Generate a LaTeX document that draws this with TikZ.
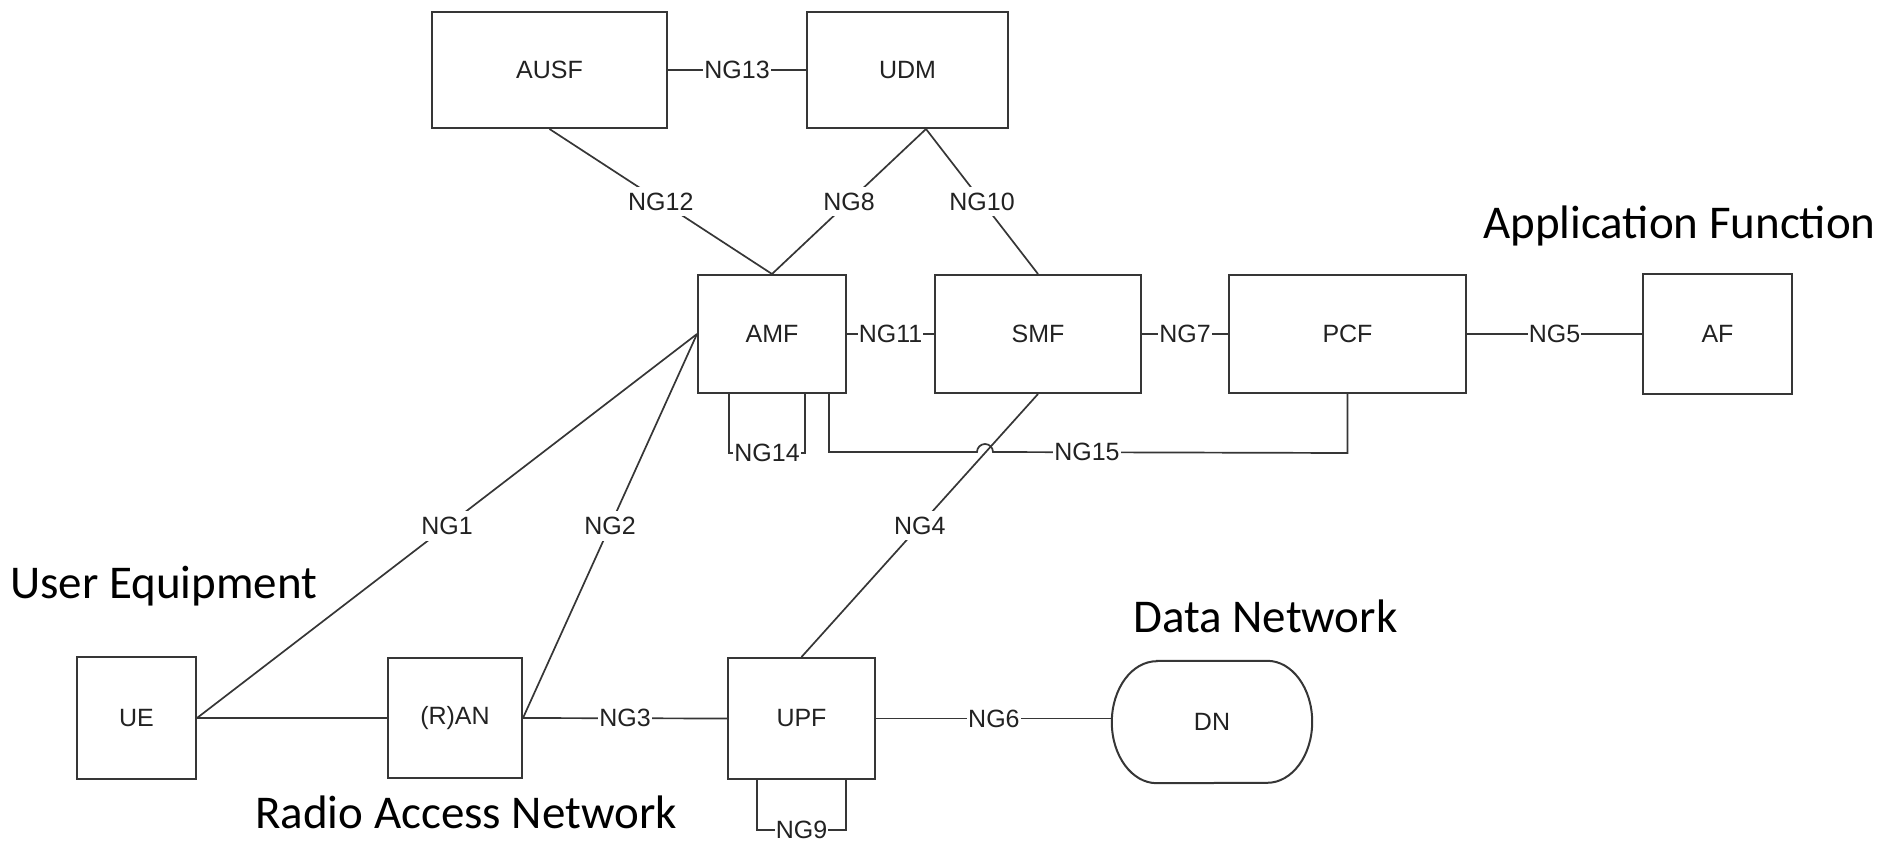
\documentclass[tikz,border=0pt]{standalone}
\usepackage{fontspec}
\setmainfont{Liberation Sans}
\newfontfamily\capfont{Carlito}
\usetikzlibrary{calc}
\definecolor{edge}{HTML}{363636}
\definecolor{ink}{HTML}{222222}
\begin{document}
\begin{tikzpicture}[x=1pt,y=-1pt,
  nf/.style={draw=edge, line width=2pt, fill=white, inner sep=0pt,
    font=\fontsize{25}{30}\selectfont, text=ink},
  link/.style={draw=edge, line width=1.7pt},
  lbl/.style={fill=white, inner xsep=1pt, inner ysep=6pt,
    font=\fontsize{25}{30}\selectfont, text=ink},
  caption/.style={anchor=base west, inner sep=0pt, text=black,
    font=\capfont\fontsize{47}{56}\selectfont}]

\useasboundingbox (0,0) rectangle (1891,843);

% network functions
\node[nf, minimum width=235pt, minimum height=116pt] (AUSF) at (549.5,70) {AUSF};
\node[nf, minimum width=201pt, minimum height=116pt] (UDM)  at (907.5,70) {UDM};
\node[nf, minimum width=148pt, minimum height=118pt] (AMF)  at (772,334) {AMF};
\node[nf, minimum width=206pt, minimum height=118pt] (SMF)  at (1038,334) {SMF};
\node[nf, minimum width=237pt, minimum height=118pt] (PCF)  at (1347.5,334) {PCF};
\node[nf, minimum width=149pt, minimum height=120pt] (AF)   at (1717.5,334) {AF};
\node[nf, minimum width=119pt, minimum height=122pt] (UE)   at (136.5,718) {UE};
\node[nf, minimum width=134pt, minimum height=120pt] (RAN)  at (455,718) {(R)AN};
\node[nf, minimum width=147pt, minimum height=121pt] (UPF)  at (801.5,718.5) {UPF};

% data network: box with elliptical ends
\node[minimum width=200pt, minimum height=122pt, inner sep=0pt,
      font=\fontsize{25}{30}\selectfont, text=ink] (DN) at (1212,722) {};
\draw[draw=edge, line width=2pt, fill=white]
  ($(DN.north west)+(45,0)$) -- ($(DN.north east)+(-45,0)$)
  arc[start angle=90, end angle=-90, x radius=45pt, y radius=61pt]
  -- ($(DN.south west)+(45,0)$)
  arc[start angle=-90, end angle=-270, x radius=45pt, y radius=61pt] -- cycle;
\node[font=\fontsize{25}{30}\selectfont, text=ink] at (DN.center) {DN};

% reference points
\coordinate (udmS) at ($(UDM.south)+(18.5,0)$);
\coordinate (hop) at (985,452);

% reference points between functions
\draw[link] (AUSF.east) -- node[lbl, midway] {NG13} (UDM.west);
\draw[link] (AUSF.south) -- node[lbl, midway] {NG12} (AMF.north);
\draw[link] (udmS) -- node[lbl, midway] {NG8} (AMF.north);
\draw[link] (udmS) -- node[lbl, midway] {NG10} (SMF.north);
\draw[link] (AMF.east) -- node[lbl, midway] {NG11} (SMF.west);
\draw[link] (SMF.east) -- node[lbl, midway] {NG7} (PCF.west);
\draw[link] (PCF.east) -- node[lbl, midway] {NG5} (AF.west);
\draw[link] (UE.east) -- node[lbl, midway] {NG1} (AMF.west);
\draw[link] (RAN.east) -- node[lbl, midway] {NG2} (AMF.west);
\draw[link] (UE.east) -- (RAN.west);
\draw[link] (RAN.east) -- node[lbl, midway] {NG3} (UPF.west);
\draw[link] (UPF.east) -- node[lbl, midway] {NG6} (UPF.east -| DN.west);
\draw[link] (UPF.north) -- node[lbl, midway] {NG4} (SMF.south);

% loops back onto the same function
\draw[link] ($(AMF.south)+(-43,0)$) -- ++(0,59)
  -- node[lbl, midway] {NG14} ($(AMF.south)+(33,59)$) -- ($(AMF.south)+(33,0)$);
\draw[link] ($(UPF.south)+(-44.5,0)$) -- ++(0,50)
  -- node[lbl, midway] {NG9} ($(UPF.south)+(44.5,50)$) -- ($(UPF.south)+(44.5,0)$);

% AMF to PCF, hopping over NG4
\draw[link] ($(AMF.south)+(57,0)$) |- ($(hop)+(-8,0)$)
  arc[start angle=180, end angle=0, radius=8pt]
  -- node[lbl, pos=0.265] {NG15} ($(PCF.south)+(0,59)$) -- (PCF.south);

% captions
\node[caption] (capUE)  at (10,598)   {User Equipment};
\node[caption] (capRAN) at (255,828)  {Radio Access Network};
\node[caption] (capDN)  at (1133,632) {Data Network};
\node[caption] (capAF)  at (1483,238) {Application Function};
\end{tikzpicture}
\end{document}
